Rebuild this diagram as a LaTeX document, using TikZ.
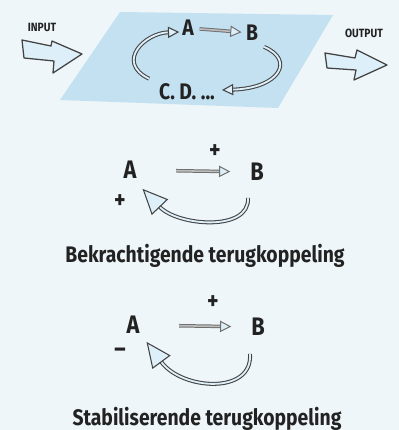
\documentclass[tikz,border=0pt]{standalone}
\usepackage{fontspec}
\setmainfont{Fira Sans}[FakeStretch=0.86]
\usetikzlibrary{arrows.meta}

\definecolor{paper}{HTML}{EEF6F9}
\definecolor{plane}{HTML}{C4E1F1}
\definecolor{ink}{HTML}{222222}
\definecolor{pale}{HTML}{DDEFF8}

\begin{document}
\begin{tikzpicture}[x=0.025cm,y=-0.025cm,
  bigtxt/.style={font=\bfseries\fontsize{18}{18}\selectfont,text=ink,inner sep=2pt},
  toptxt/.style={font=\bfseries\fontsize{16}{16}\selectfont,text=ink,inner sep=2pt},
  smalltxt/.style={font=\bfseries\fontsize{8.5}{8.5}\selectfont,text=ink,inner sep=0pt},
  captxt/.style={font=\bfseries\fontsize{16}{16}\selectfont,text=ink,inner sep=0pt,anchor=base},
  ringarrow/.style={draw=ink!85,line width=0.75pt,double=pale,double distance=1.3pt,
    -{Triangle[length=8pt,width=8pt,fill=pale]}},
  bigring/.style={ringarrow,-{Triangle[length=18pt,width=16pt,fill=pale]}},
  abarrow/.style={draw=ink!65,line width=0.7pt,double=ink!30,double distance=1.1pt,
    -{Triangle[length=8pt,width=8pt,fill=pale]}},
  block/.style={draw=ink!85,line width=0.9pt,fill=pale,line join=round}]

\fill[paper] (0,0) rectangle (399,430);
\useasboundingbox (0,0) rectangle (399,430);

% system plane with input and output
\fill[plane] (120,12) -- (333,15) -- (278,108) -- (60,100) -- cycle;

\node[smalltxt] (inlbl) at (42,27) {INPUT};
\node[smalltxt] (outlbl) at (364,33) {OUTPUT};
\draw[block] (22,40) -- (51,46) -- (52,41) -- (82,54) -- (53,73) -- (54,61) -- (24,58) -- cycle;
\draw[block] (325,53) -- (355,58) -- (357,50) -- (387,65) -- (354,80) -- (356,70) -- (327,68) -- cycle;

\node[toptxt] (topA) at (188,28) {A};
\node[toptxt] (topB) at (252,33) {B};
\node[toptxt] (topCD) at (187,92) {C. D. ...};

\draw[abarrow,shorten <=2pt,shorten >=1pt] (topA) -- (topB);
\draw[ringarrow] ([shift={(-7,-2)}]topCD.north west) .. controls (115,62) and (145,33) .. ([shift={(0,4)}]topA.west);
\draw[ringarrow] ([shift={(3,3)}]topB.south east) .. controls (295,60) and (280,88) .. ([shift={(4,-2)}]topCD.east);

% reinforcing loop
\node[bigtxt] (midA) at (130,170) {A};
\node[bigtxt] (midB) at (257,172) {B};
\node[bigtxt] (midplus) at (215,152) {+};
\node[bigtxt] (midsign) at (120,202) {+};

\draw[abarrow,shorten <=26pt,shorten >=12pt] (midA) -- (midB);
\draw[bigring] ([shift={(-9,14)}]midB.south) .. controls (250,232) and (178,226) .. ([shift={(3,7)}]midA.south east);

\node[captxt] (capmid) at (205,262) {Bekrachtigende terugkoppeling};

% balancing loop
\node[bigtxt] (botA) at (133,325) {A};
\node[bigtxt] (botB) at (258,327) {B};
\node[bigtxt] (botplus) at (213,303) {+};
\node[bigtxt] (botsign) at (120,353) {\textendash};

\draw[abarrow,shorten <=26pt,shorten >=12pt] (botA) -- (botB);
\draw[bigring] ([shift={(-8,15)}]botB.south) .. controls (253,395) and (182,390) .. ([shift={(4,5)}]botA.south east);

\node[captxt] (capbot) at (207,425) {Stabiliserende terugkoppeling};

\end{tikzpicture}
\end{document}
